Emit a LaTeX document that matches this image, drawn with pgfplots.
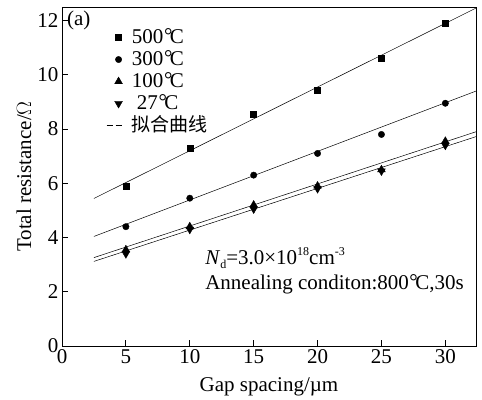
\documentclass[border=0pt]{standalone}
\usepackage{pgfplots}
\pgfplotsset{compat=1.18}
\usepackage{fontspec}
\setmainfont{Liberation Serif}
\newfontfamily\cjk{Noto Sans CJK SC}
\newcommand{\degC}{\kern0.03em\raisebox{0.02em}{°}\kern-0.12em C}
\newcommand{\smallsub}[1]{\raisebox{-0.2em}{\fontsize{12}{12}\selectfont #1}}
\newcommand{\smallsup}[1]{\raisebox{0.45em}{\fontsize{12}{12}\selectfont #1}}
\begin{document}
\begin{tikzpicture}
\useasboundingbox (0,0) rectangle (482pt,399pt);
\begin{axis}[
  at={(62pt,53pt)}, anchor=south west,
  scale only axis, width=414pt, height=339pt,
  xmin=0, xmax=32.4, ymin=0, ymax=12.5,
  xtick={0,5,...,30}, ytick={0,2,...,12},
  tick align=inside, xtick pos=bottom, ytick pos=left,
  major tick length=6pt,
  tick style={black, line width=0.9pt},
  axis line style={line width=0.9pt},
  /pgf/number format/assume math mode=true,
  tick label style={font=\fontsize{21}{21}\selectfont},
  label style={font=\fontsize{21}{21}\selectfont},
  xlabel={Gap spacing/\textmu m},
  ylabel={Total resistance/\(\Omega\)},
  xlabel style={at={(axis description cs:0.5,-0.133)}, anchor=base},
  ylabel style={at={(axis description cs:-0.092,0.5)}, anchor=center},
  legend style={draw=none, fill=none, at={(0.106,0.94)}, anchor=north west,
    font=\fontsize{21}{21}\selectfont, row sep=2pt, inner sep=0pt,
    nodes={inner sep=0.5pt, text height=15pt, text depth=4pt}},
  legend cell align=left,
  every axis plot/.append style={black},
]
\addplot[only marks, mark=square*, mark size=3pt] coordinates {(5,5.9)(10,7.3)(15,8.55)(20,9.45)(25,10.6)(30,11.9)};
\addlegendentry{\hspace{9pt}500\degC}
\addplot[only marks, mark=*, mark size=3.2pt] coordinates {(5,4.4)(10,5.45)(15,6.3)(20,7.1)(25,7.8)(30,8.95)};
\addlegendentry{\hspace{9pt}300\degC}
\addplot[only marks, mark=triangle*, mark size=4.5pt] coordinates {(5,3.55)(10,4.4)(15,5.2)(20,5.9)(25,6.5)(30,7.55)};
\addlegendentry{\hspace{9pt}100\degC}
\addplot[only marks, mark=triangle*, mark options={rotate=180}, mark size=4.5pt] coordinates {(5,3.4)(10,4.3)(15,5.05)(20,5.8)(25,6.45)(30,7.4)};
\addlegendentry{\hspace{14pt}27\degC}
\addplot[no marks, line width=0.5pt, legend image code/.code={\draw[line width=0.9pt] (-3.5pt,0pt) -- (2.5pt,0pt); \draw[line width=0.9pt] (5.5pt,0pt) -- (11.5pt,0pt);}] coordinates {(2.5,5.44)(32.4,12.46)};
\addlegendentry{\hspace{9pt}{\cjk\fontsize{19}{19}\selectfont 拟合曲线}}
\addplot[no marks, line width=0.5pt, forget plot] coordinates {(2.5,4.04)(32.4,9.4)};
\addplot[no marks, line width=0.5pt, forget plot] coordinates {(2.5,3.26)(32.4,7.9)};
\addplot[no marks, line width=0.5pt, forget plot] coordinates {(2.5,3.12)(32.4,7.72)};
\node[anchor=north west, font=\fontsize{21}{21}\selectfont, inner sep=0pt] at (rel axis cs:0.012,0.99) {(a)};
\node[anchor=base west, font=\fontsize{21}{21}\selectfont, inner sep=0pt] at (axis cs:11.2,3.0) {\textit{N}\smallsub{d}=3.0×10\smallsup{18}cm\smallsup{-3}};
\node[anchor=base west, font=\fontsize{21}{21}\selectfont, inner sep=0pt] at (axis cs:11.2,2.1) {Annealing conditon:800\degC,30s};
\end{axis}
\end{tikzpicture}
\end{document}
